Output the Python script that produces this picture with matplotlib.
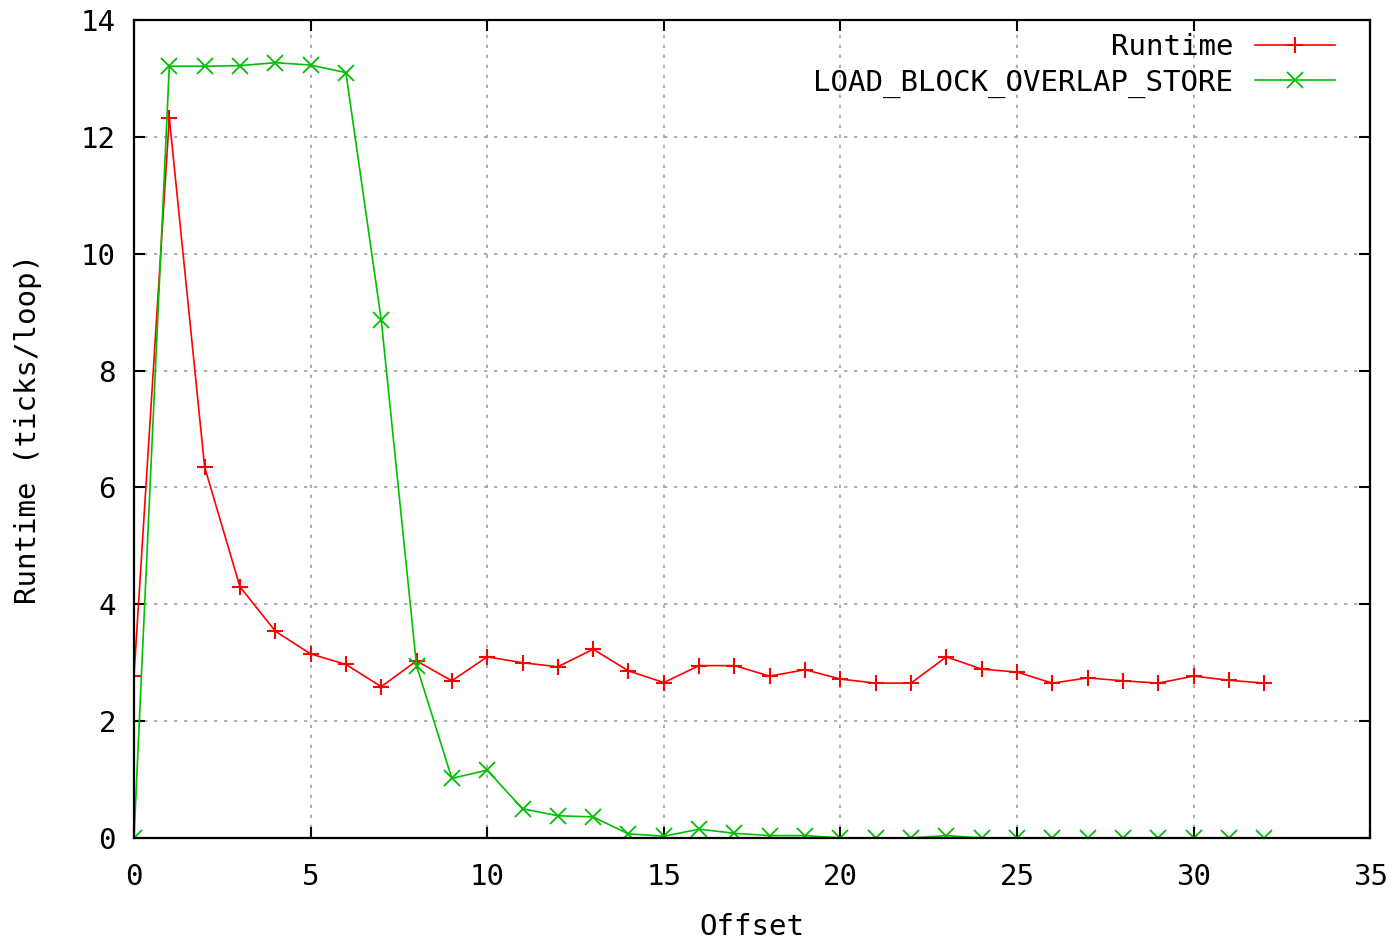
import matplotlib
matplotlib.use("Agg")
import matplotlib.pyplot as plt

offsets = list(range(0, 33))
runtime = [2.78, 12.33, 6.35, 4.30, 3.54, 3.15, 2.97, 2.59, 3.03, 2.69, 3.10,
           3.00, 2.93, 3.23, 2.86, 2.66, 2.95, 2.95, 2.77, 2.88, 2.72, 2.65,
           2.65, 3.10, 2.89, 2.84, 2.65, 2.74, 2.69, 2.65, 2.77, 2.70, 2.65]
overlap = [0.0, 13.21, 13.21, 13.22, 13.27, 13.23, 13.10, 8.87, 2.95, 1.02, 1.16,
           0.50, 0.38, 0.36, 0.07, 0.03, 0.15, 0.08, 0.04, 0.04, 0.0, 0.0,
           0.0, 0.04, 0.0, 0.0, 0.0, 0.0, 0.0, 0.0, 0.0, 0.0, 0.0]

xticks = [0, 5, 10, 15, 20, 25, 30, 35]
yticks = [0, 2, 4, 6, 8, 10, 12, 14]

plt.rcParams['font.family'] = ['DejaVu Sans Mono']
FS = 21
fig = plt.figure(figsize=(14, 9.41), dpi=100)
ax = fig.add_axes([0.0957, 0.1095, 0.883, 0.8692])

ax.plot(offsets, runtime, color="#ff0000", lw=1.2, marker="+", ms=12, mew=1.5,
        label="Runtime")
ax.plot(offsets, overlap, color="#00c000", lw=1.2, marker="x", ms=11, mew=1.3,
        label="LOAD_BLOCK_OVERLAP_STORE")

ax.set_xlim(0, 35)
ax.set_ylim(0, 14)
ax.set_xticks(xticks)
ax.set_yticks(yticks)
ax.grid(True, color="#a0a0a0", linestyle=(0, (2, 4)), lw=1.2)
ax.set_axisbelow(True)
for s in ax.spines.values():
    s.set_linewidth(1.6)
ax.tick_params(direction="in", length=8, width=1.5, top=True, right=True,
               labelsize=FS)
ax.tick_params(axis="x", pad=18)
ax.tick_params(axis="y", pad=13)
ax.set_xlabel("Offset", fontsize=FS, labelpad=16)
ax.set_ylabel("Runtime (ticks/loop)", fontsize=FS, labelpad=28)
ax.legend(loc="upper right", frameon=False, markerfirst=False, fontsize=FS,
          handlelength=2.75, handletextpad=0.75, borderaxespad=0, borderpad=0,
          labelspacing=0.25, bbox_to_anchor=(0.9717, 0.984))
fig.savefig("out.png", dpi=100)
